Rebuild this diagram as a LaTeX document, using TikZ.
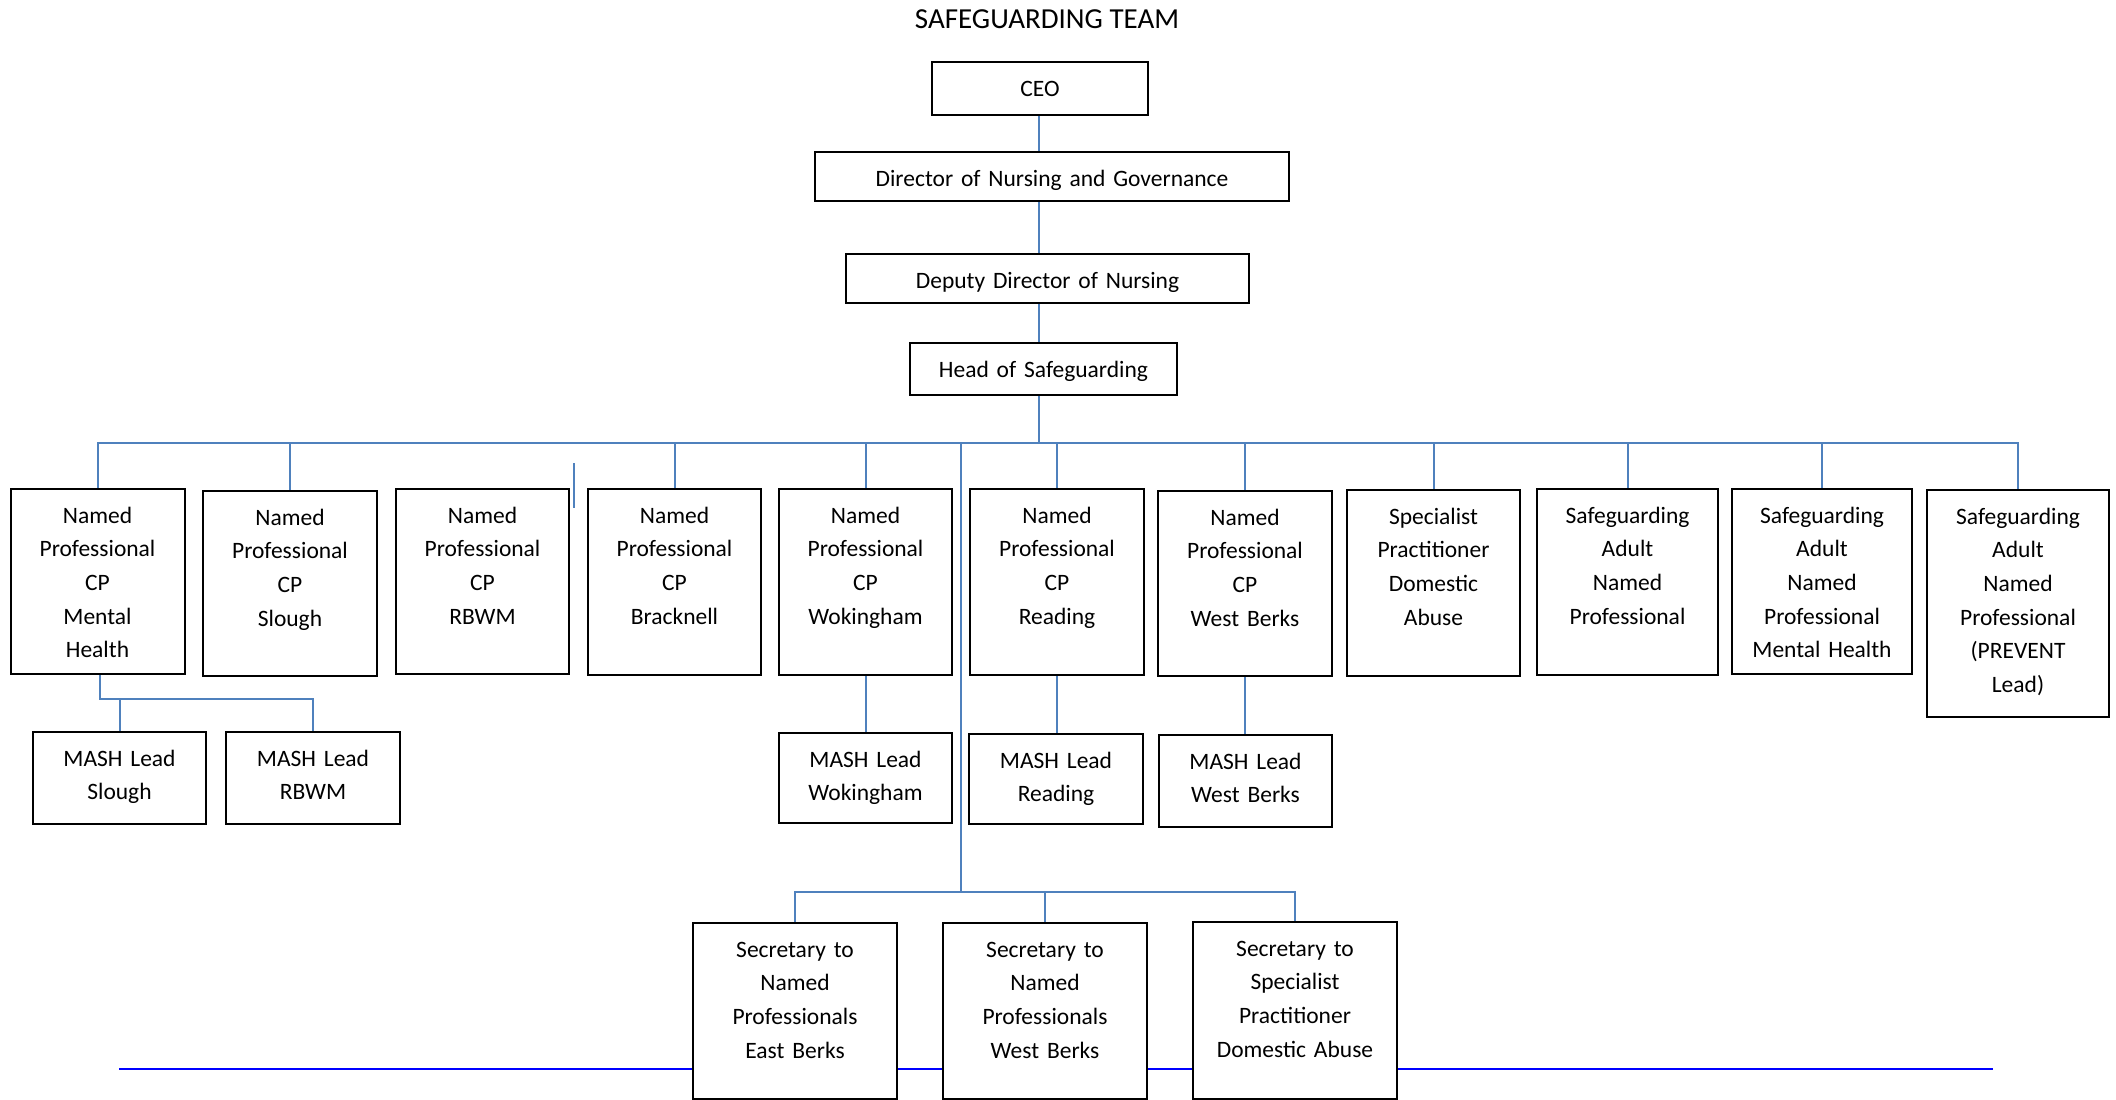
\documentclass[tikz,border=0pt]{standalone}
\usepackage{fontspec}
\setmainfont{Carlito}
\usepackage{tikz}

\definecolor{linkblue}{RGB}{79,129,189}
\newcommand\boxfont{\fontsize{11.75pt}{16.85pt}\selectfont}

\begin{document}
\begin{tikzpicture}[x=0.5pt, y=-0.5pt,
  rolebox/.style 2 args={draw=black, line width=1pt, fill=white, inner sep=0pt,
    anchor=north, align=center, font=\boxfont, text height=17pt,
    text width=#1, text depth=#2},
  link/.style={draw=linkblue, line width=1pt}]

  \useasboundingbox (0,0) rectangle (2116,1099);

  \newcommand\YROW{488}
  \newcommand\YMASH{731}
  \newcommand\YSEC{922}

  \node[anchor=base, font=\fontsize{14.5pt}{17pt}\selectfont] (title) at (1047,28.3) {SAFEGUARDING TEAM};

  % top of the tree
  \node[rolebox={108pt}{9.5pt}] (ceo) at (1040,61) {CEO};
  \node[rolebox={237pt}{7.5pt}] (dir) at (1052,151) {Director of Nursing and Governance};
  \node[rolebox={201.5pt}{7.5pt}] (dep) at (1047.5,253) {Deputy Director of Nursing};
  \node[rolebox={133.5pt}{9pt}] (head) at (1043.5,342) {Head of Safeguarding};

  % named professionals
  \node[rolebox={87pt}{75.5pt}] (b1) at (97.5,\YROW) {Named\\Professional\\CP\\Mental\\Health};
  \node[rolebox={87pt}{75.5pt}] (b2) at (290,\YROW+2) {Named\\Professional\\CP\\Slough};
  \node[rolebox={86.5pt}{75.5pt}] (b3) at (482.5,\YROW) {Named\\Professional\\CP\\RBWM};
  \node[rolebox={86.5pt}{76pt}] (b4) at (674.5,\YROW) {Named\\Professional\\CP\\Bracknell};
  \node[rolebox={86.5pt}{76pt}] (b5) at (865.5,\YROW) {Named\\Professional\\CP\\Wokingham};
  \node[rolebox={87pt}{76pt}] (b6) at (1057,\YROW) {Named\\Professional\\CP\\Reading};
  \node[rolebox={87pt}{75.5pt}] (b7) at (1245,\YROW+2) {Named\\Professional\\CP\\West Berks};
  \node[rolebox={86.5pt}{76pt}] (b8) at (1433.5,\YROW+1) {Specialist\\Practitioner\\Domestic\\Abuse};
  \node[rolebox={90.5pt}{76pt}] (b9) at (1627.5,\YROW) {Safeguarding\\Adult\\Named\\Professional};
  \node[rolebox={90pt}{75.5pt}] (b10) at (1822,\YROW) {Safeguarding\\Adult\\Named\\Professional\\Mental Health};
  \node[rolebox={91pt}{96.5pt}] (b11) at (2018,\YROW+1) {Safeguarding\\Adult\\Named\\Professional\\(PREVENT\\Lead)};

  % MASH leads
  \node[rolebox={86.5pt}{29pt}] (m1) at (119.5,\YMASH) {MASH Lead\\Slough};
  \node[rolebox={87pt}{29pt}] (m2) at (313,\YMASH) {MASH Lead\\RBWM};
  \node[rolebox={86.5pt}{28pt}] (m3) at (865.5,\YMASH+1) {MASH Lead\\Wokingham};
  \node[rolebox={87pt}{28pt}] (m4) at (1056,\YMASH+2) {MASH Lead\\Reading};
  \node[rolebox={86.5pt}{29pt}] (m5) at (1245.5,\YMASH+3) {MASH Lead\\West Berks};

  % rule behind the secretaries
  \coordinate (rulel) at (119,1069);
  \coordinate (ruler) at (1993,1069);
  \draw[blue, line width=1pt] (rulel) -- (ruler);

  \node[rolebox={102pt}{71pt}] (s1) at (795,\YSEC) {Secretary to\\Named\\Professionals\\East Berks};
  \node[rolebox={102pt}{71pt}] (s2) at (1045,\YSEC) {Secretary to\\Named\\Professionals\\West Berks};
  \node[rolebox={102pt}{71.5pt}] (s3) at (1295,\YSEC-1) {Secretary to\\Specialist\\Practitioner\\Domestic Abuse};

  % connectors
  \coordinate (trunk) at (1039,443);
  \draw[link] (ceo.south -| trunk) -- (dir.north -| trunk);
  \draw[link] (dir.south -| trunk) -- (dep.north -| trunk);
  \draw[link] (dep.south -| trunk) -- (head.north -| trunk);
  \draw[link] (head.south -| trunk) -- (trunk);

  \draw[link] (b1.north) -- (b1.north |- trunk) -- (b11.north |- trunk) -- (b11.north);
  \foreach \n in {b2,b4,b5,b6,b7,b8,b9,b10}
    \draw[link] (\n.north |- trunk) -- (\n.north);

  \coordinate (stubtop) at (574,463);
  \coordinate (stubbot) at (574,508);
  \draw[link] (stubtop) -- (stubbot);

  \coordinate (mashbus) at (100,699);
  \draw[link] (b1.south -| mashbus) -- (mashbus) -- (mashbus -| m2.north) -- (m2.north);
  \draw[link] (mashbus -| m1.north) -- (m1.north);
  \draw[link] (b5.south) -- (m3.north);
  \draw[link] (b6.south) -- (b6.south |- m4.north);
  \draw[link] (b7.south) -- (b7.south |- m5.north);

  \coordinate (secbus) at (961,892);
  \draw[link] (secbus |- trunk) -- (secbus);
  \draw[link] (s1.north) -- (s1.north |- secbus) -- (s3.north |- secbus) -- (s3.north);
  \draw[link] (s2.north |- secbus) -- (s2.north);

\end{tikzpicture}
\end{document}
